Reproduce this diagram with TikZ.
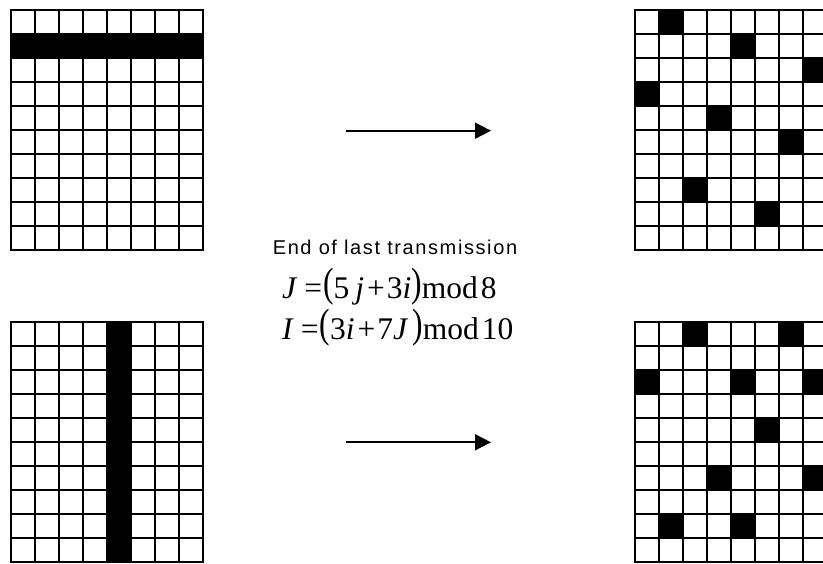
\documentclass[tikz,border=0pt]{standalone}
\usepackage{fontspec}
\setmainfont{Liberation Serif}
\newfontfamily\arialfont[LetterSpace=8]{Liberation Sans}
\usetikzlibrary{arrows.meta}
\newcommand\gridcells[3]{%
  \foreach \r/\c in {#3} {\fill[black] (#1+\c*24.06,#2+\r*24) rectangle ++(24.06,24);}
  \foreach \k in {0,...,8} {\draw[gridline] (#1+\k*24.06,#2) -- ++(0,240);}
  \foreach \k in {0,...,10} {\draw[gridline] (#1,#2+\k*24) -- ++(192.5,0);}
}
\newcommand\tallpar[1]{\raisebox{2pt}{\scalebox{1}[1.3]{#1}}}
\begin{document}
\begin{tikzpicture}[x=1pt,y=-1pt,
  gridline/.style={line width=2pt,line cap=rect},
  arrowline/.style={line width=1.8pt,-{Triangle[length=16pt,width=16pt]}},
  captext/.style={font=\arialfont\fontsize{20}{22}\selectfont,inner sep=0pt},
  eqtext/.style={font=\fontsize{31.5}{34}\selectfont,inner sep=0pt,anchor=base west}]
\useasboundingbox (0,0) rectangle (823,563);
\clip (0,0) rectangle (823,563);
\fill[white] (0,0) rectangle (823,563);
% top-left grid: row 1 filled
\gridcells{10.5}{10}{1/0,1/1,1/2,1/3,1/4,1/5,1/6,1/7}
% top-right grid
\gridcells{634.7}{10}{0/1,1/4,2/7,3/0,4/3,5/6,7/2,8/5}
% bottom-left grid: column 4 filled
\gridcells{10.5}{321.7}{0/4,1/4,2/4,3/4,4/4,5/4,6/4,7/4,8/4,9/4}
% bottom-right grid
\gridcells{634.7}{321.7}{0/2,0/6,2/0,2/4,2/7,4/5,6/3,6/7,8/1,8/4}
% arrows
\coordinate (a1s) at (346,130.7);
\coordinate (a1e) at (491,130.7);
\coordinate (a2s) at (346,442.3);
\coordinate (a2e) at (491,442.3);
\draw[arrowline] (a1s) -- (a1e);
\draw[arrowline] (a2s) -- (a2e);
% texts
\node[captext] (cap) at (395,247) {End of last transmission};
\node[eqtext] (eq1) at (282,298) {\textit{J}\kern7pt=\kern1pt\tallpar{(}5\kern6pt\textit{j}\kern3pt+\kern2pt3\textit{i}\tallpar{)}mod\kern3pt8};
\node[eqtext] (eq2) at (282,339) {\textit{I}\kern7pt=\kern1pt\tallpar{(}3\textit{i}\kern3pt+\kern2pt7\textit{J}\kern4pt\tallpar{)}mod\kern3pt10};
\end{tikzpicture}
\end{document}
